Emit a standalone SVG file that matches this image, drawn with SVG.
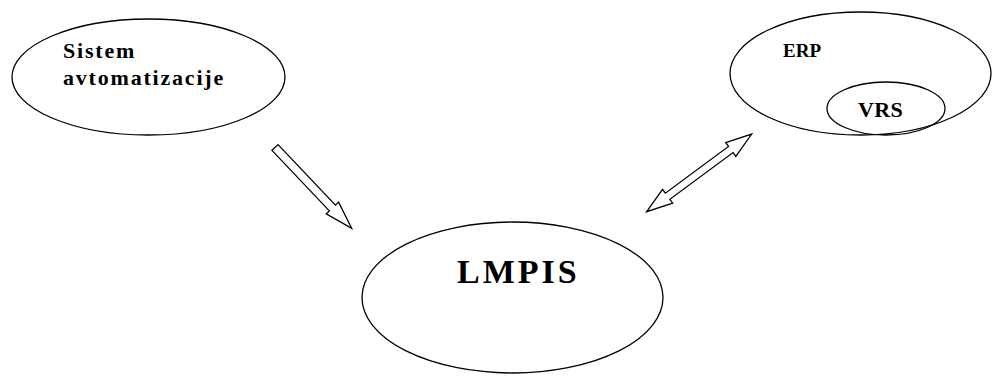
<svg xmlns="http://www.w3.org/2000/svg" width="992" height="376" viewBox="0 0 992 376">
  <style>
    .shape { fill: none; stroke: #000; stroke-width: 1.3; }
    .arrow { fill: #fff; stroke: #000; stroke-width: 1.3; stroke-linejoin: miter; }
  </style>
  <rect width="992" height="376" fill="#fff"/>

  <!-- connectors: hollow block arrows -->
  <g id="connectors">
    <!-- Sistem avtomatizacije -> LMPIS -->
    <g id="arrow-sa-lmpis" transform="translate(275,147.5) rotate(46.5)">
      <path class="arrow" d="M0,-4.2 L83.4,-4.2 L83.4,-8.5 L111.4,0 L83.4,8.5 L83.4,4.2 L0,4.2 Z"/>
    </g>
    <!-- LMPIS <-> ERP -->
    <g id="arrow-lmpis-erp" transform="translate(646.7,211.7) rotate(-36.5)">
      <path class="arrow" d="M0,0 L26,-8.5 L26,-3.8 L104.6,-3.8 L104.6,-8.5 L130.6,0 L104.6,8.5 L104.6,3.8 L26,3.8 L26,8.5 Z"/>
    </g>
  </g>

  <g font-family="Liberation Serif, serif" font-weight="bold" fill="#000">
    <g id="node-sistem">
      <ellipse class="shape" cx="148.5" cy="77" rx="136.5" ry="58"/>
      <text x="63" y="58" font-size="22" letter-spacing="1.8">Sistem</text>
      <text x="63" y="85" font-size="22" letter-spacing="1.8">avtomatizacije</text>
    </g>

    <g id="node-erp">
      <ellipse class="shape" cx="860.5" cy="73.5" rx="130.5" ry="61.5"/>
      <text x="783" y="57" font-size="19">ERP</text>
    </g>

    <g id="node-vrs">
      <ellipse class="shape" cx="886" cy="108.5" rx="59" ry="26.5"/>
      <text x="858" y="117" font-size="22" letter-spacing="0.3">VRS</text>
    </g>

    <g id="node-lmpis">
      <ellipse class="shape" cx="512.5" cy="297.5" rx="150.5" ry="75.5"/>
      <text x="457" y="283" font-size="34" letter-spacing="3">LMPIS</text>
    </g>
  </g>
</svg>
